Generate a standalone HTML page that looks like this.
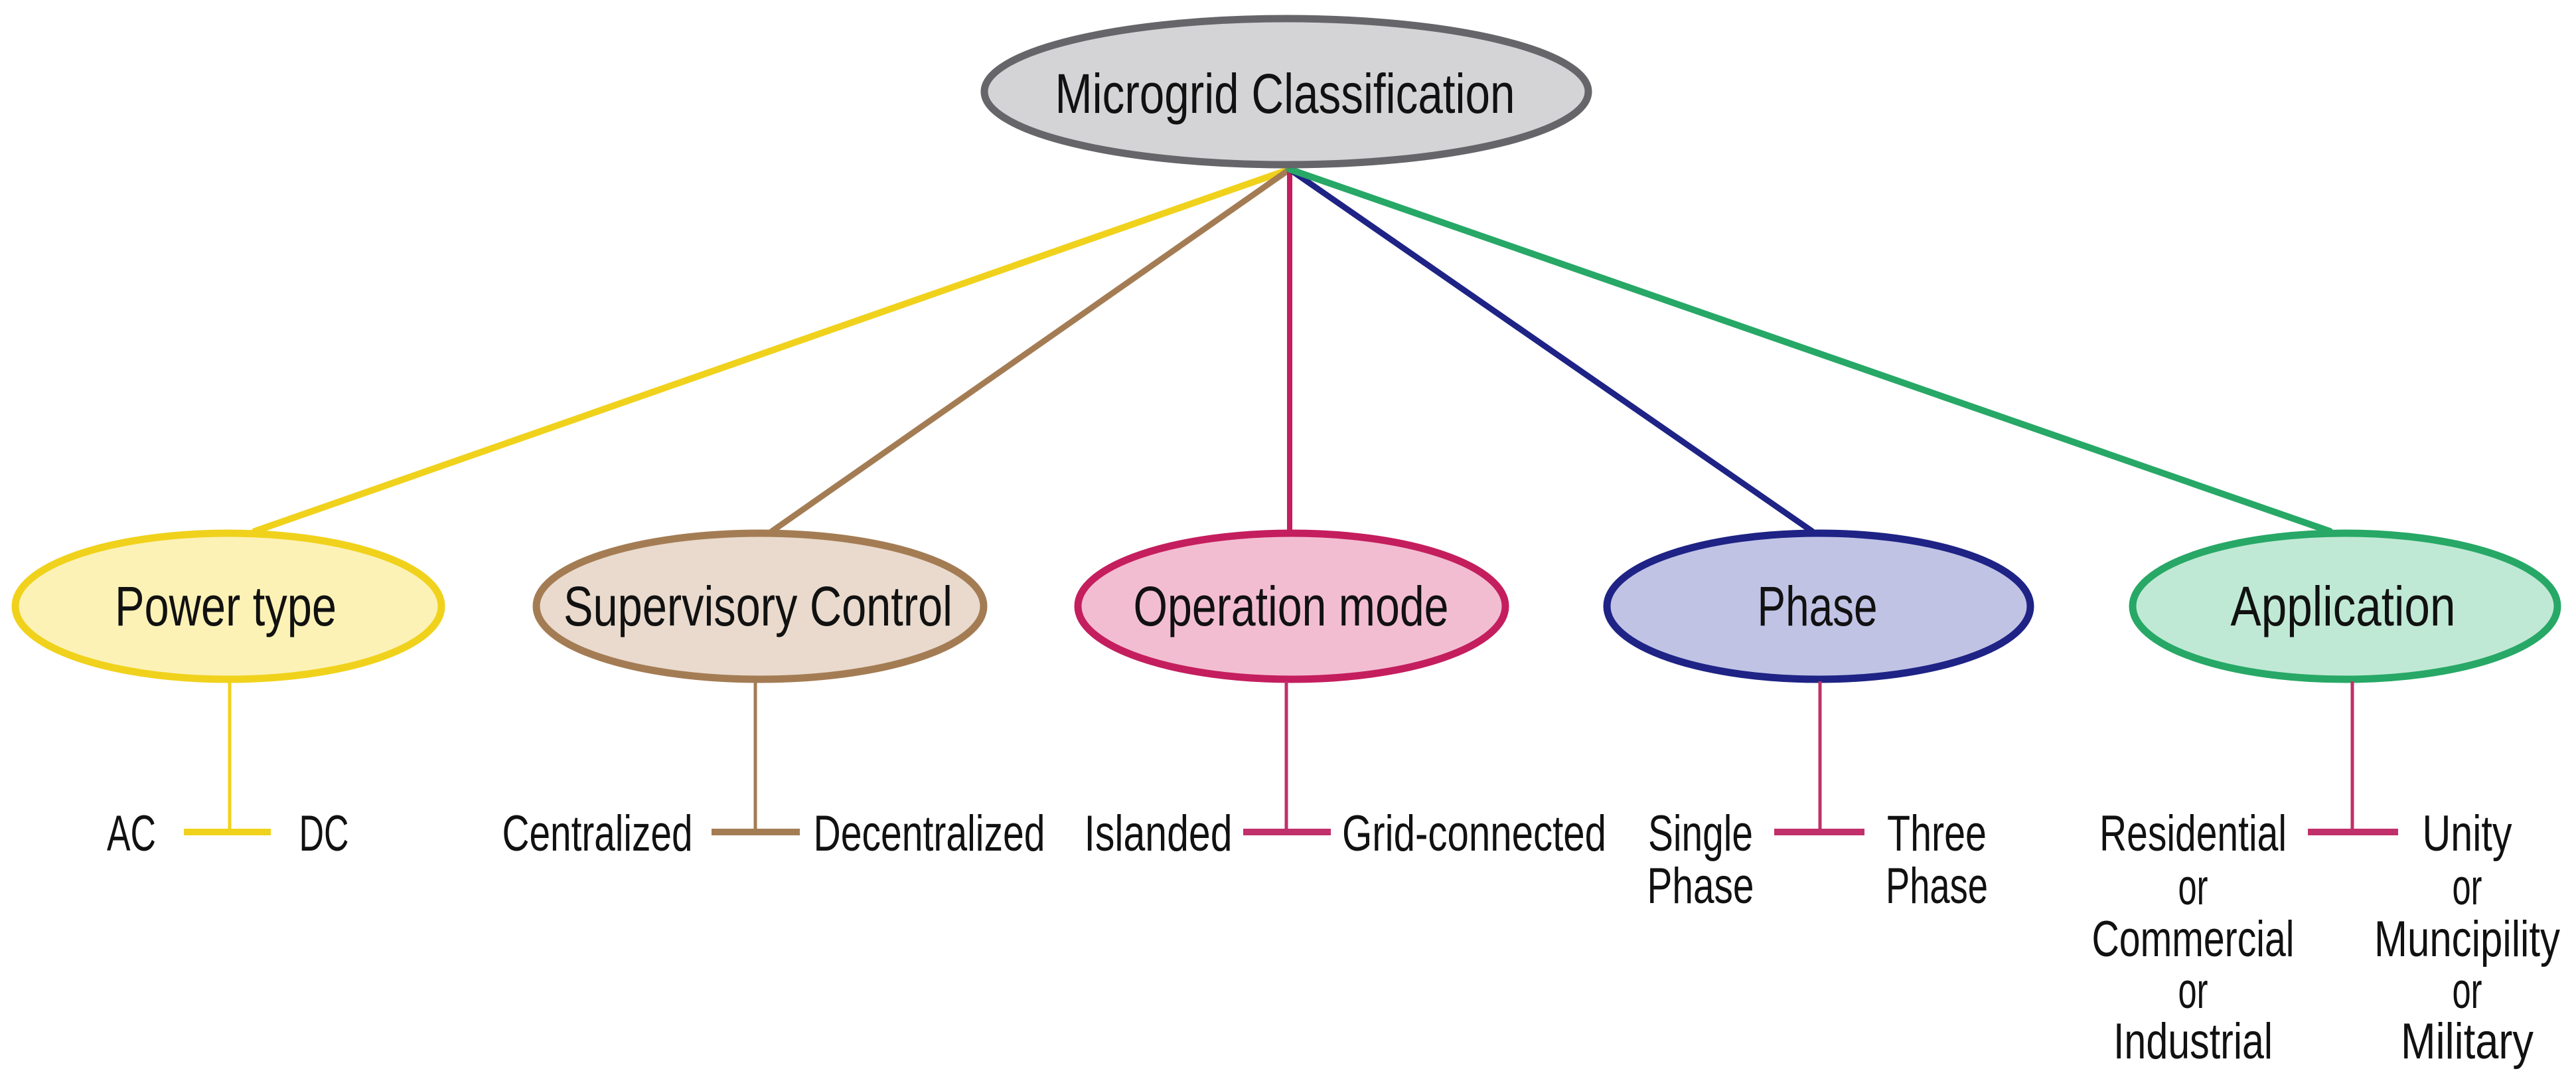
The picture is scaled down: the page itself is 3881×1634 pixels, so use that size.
<!DOCTYPE html>
<html><head><meta charset="utf-8"><style>html,body{margin:0;padding:0;background:#fff}svg{display:block}</style></head>
<body>
<svg width="3881" height="1634" viewBox="0 0 3881 1634" xmlns="http://www.w3.org/2000/svg" font-family="'Liberation Sans Narrow','Liberation Sans',sans-serif" fill="#111">
<g stroke-linecap="round" fill="none">
<path d="M1943 255 L384 800" stroke="#f0d21c" stroke-width="10"/>
<path d="M1943 255 L1163 800" stroke="#a47c54" stroke-width="9"/>
<path d="M1943 255 L1943 800" stroke="#c41e5e" stroke-width="8"/>
<path d="M1943 255 L2730 800" stroke="#1e2385" stroke-width="9"/>
<path d="M1943 255 L3510 800" stroke="#27a866" stroke-width="10"/>
</g>
<ellipse cx="1938" cy="138" rx="455" ry="110" fill="#d4d4d6" stroke="#66666a" stroke-width="11"/>
<text x="1936" y="170" font-size="84" text-anchor="middle" textLength="693" lengthAdjust="spacingAndGlyphs">Microgrid Classification</text>
<ellipse cx="344" cy="913" rx="321" ry="110" fill="#fdf2b6" stroke="#f0d21c" stroke-width="11"/>
<ellipse cx="1145" cy="913" rx="337" ry="110" fill="#e9dacd" stroke="#a47c54" stroke-width="11"/>
<ellipse cx="1946" cy="913" rx="322" ry="110" fill="#f3bdd1" stroke="#c41e5e" stroke-width="11"/>
<ellipse cx="2740" cy="913" rx="319" ry="110" fill="#c1c3e5" stroke="#1e2385" stroke-width="11"/>
<ellipse cx="3533" cy="913" rx="320" ry="110" fill="#c0e9d5" stroke="#27a866" stroke-width="11"/>
<g font-size="84" text-anchor="middle">
<text x="340" y="942" textLength="334" lengthAdjust="spacingAndGlyphs">Power type</text>
<text x="1142" y="942" textLength="586" lengthAdjust="spacingAndGlyphs">Supervisory Control</text>
<text x="1945" y="942" textLength="475" lengthAdjust="spacingAndGlyphs">Operation mode</text>
<text x="2738" y="942" textLength="181" lengthAdjust="spacingAndGlyphs">Phase</text>
<text x="3530" y="942" textLength="339" lengthAdjust="spacingAndGlyphs">Application</text>
</g>
<g fill="none">
<path d="M346 1026 V1253" stroke="#f0d21c" stroke-width="5"/><path d="M277 1253 H408" stroke="#f0d21c" stroke-width="10"/>
<path d="M1138 1026 V1253" stroke="#a47c54" stroke-width="5"/><path d="M1072 1253 H1205" stroke="#a47c54" stroke-width="10"/>
<path d="M1938 1026 V1253" stroke="#c0306a" stroke-width="5"/><path d="M1873 1253 H2005" stroke="#c0306a" stroke-width="10"/>
<path d="M2742 1026 V1253" stroke="#c0306a" stroke-width="5"/><path d="M2673 1253 H2809" stroke="#c0306a" stroke-width="10"/>
<path d="M3544 1026 V1253" stroke="#c0306a" stroke-width="5"/><path d="M3477 1253 H3613" stroke="#c0306a" stroke-width="10"/>
</g>
<g font-size="76" text-anchor="middle">
<text x="198" y="1281" textLength="74" lengthAdjust="spacingAndGlyphs">AC</text>
<text x="488" y="1281" textLength="75" lengthAdjust="spacingAndGlyphs">DC</text>
<text x="900" y="1281" textLength="287" lengthAdjust="spacingAndGlyphs">Centralized</text>
<text x="1400" y="1281" textLength="349" lengthAdjust="spacingAndGlyphs">Decentralized</text>
<text x="1745" y="1281" textLength="223" lengthAdjust="spacingAndGlyphs">Islanded</text>
<text x="2221" y="1281" textLength="398" lengthAdjust="spacingAndGlyphs">Grid-connected</text>
<text x="2562" y="1281" textLength="158" lengthAdjust="spacingAndGlyphs">Single</text>
<text x="2562" y="1360" textLength="161" lengthAdjust="spacingAndGlyphs">Phase</text>
<text x="2918" y="1281" textLength="150" lengthAdjust="spacingAndGlyphs">Three</text>
<text x="2918" y="1360" textLength="154" lengthAdjust="spacingAndGlyphs">Phase</text>
<text x="3304" y="1281" textLength="282" lengthAdjust="spacingAndGlyphs">Residential</text>
<text x="3304" y="1362" textLength="45" lengthAdjust="spacingAndGlyphs">or</text>
<text x="3304" y="1440" textLength="305" lengthAdjust="spacingAndGlyphs">Commercial</text>
<text x="3304" y="1518" textLength="45" lengthAdjust="spacingAndGlyphs">or</text>
<text x="3304" y="1594" textLength="240" lengthAdjust="spacingAndGlyphs">Industrial</text>
<text x="3717" y="1281" textLength="135" lengthAdjust="spacingAndGlyphs">Unity</text>
<text x="3717" y="1362" textLength="45" lengthAdjust="spacingAndGlyphs">or</text>
<text x="3717" y="1440" textLength="280" lengthAdjust="spacingAndGlyphs">Muncipility</text>
<text x="3717" y="1518" textLength="45" lengthAdjust="spacingAndGlyphs">or</text>
<text x="3717" y="1594" textLength="200" lengthAdjust="spacingAndGlyphs">Military</text>
</g>
</svg>
</body></html>
